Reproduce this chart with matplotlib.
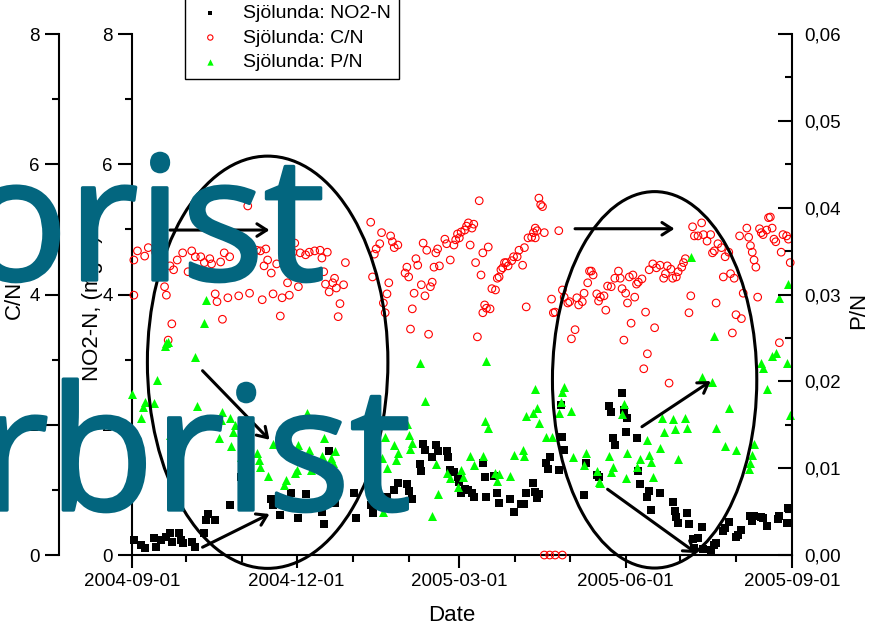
import numpy as np
import matplotlib
matplotlib.use('Agg')
import matplotlib.pyplot as plt
import matplotlib.dates as mdates
import matplotlib.patheffects as pe
from matplotlib.patches import Ellipse
from matplotlib.ticker import MultipleLocator, FuncFormatter

plt.rcParams['font.family'] = ['Liberation Sans', 'DejaVu Sans']

# sampling day (days after 2004-09-01), value
START = np.datetime64('2004-09-01')
END = np.datetime64('2005-09-01')

# Sjölunda NO2-N, mg/L
no2_pts = [
    (1, 0.23), (5, 0.15), (7, 0.11), (12, 0.26), (13, 0.12), (16, 0.23), (19, 0.28), (21, 0.34),
    (22, 0.20), (26, 0.34), (27, 0.23), (28, 0.18), (33, 0.20), (35, 0.12), (40, 0.34), (41, 0.54),
    (42, 0.63), (46, 0.54), (54, 0.77), (60, 1.20), (61, 0.86), (77, 0.86), (78, 0.77), (82, 0.61),
    (88, 0.95), (92, 0.57), (96, 0.94), (105, 0.66), (106, 0.48), (109, 1.60), (112, 0.80),
    (123, 0.95), (124, 0.57), (132, 0.77), (133, 0.65), (141, 0.89), (145, 1.00), (147, 1.11),
    (152, 1.09), (153, 0.98), (155, 0.86), (159, 1.40), (160, 1.29), (161, 1.70), (162, 1.61),
    (166, 1.51), (168, 1.69), (169, 1.60), (174, 1.60), (175, 1.51), (176, 1.31), (178, 1.27),
    (180, 1.20), (181, 1.12), (182, 0.95), (184, 1.01), (186, 1.00), (188, 0.95), (189, 0.89),
    (194, 1.41), (195, 1.20), (196, 0.89), (200, 1.21), (202, 0.95), (203, 0.80), (209, 0.86),
    (211, 0.66), (215, 0.78), (217, 0.78), (218, 0.95), (222, 1.11), (223, 0.97), (224, 0.88),
    (225, 0.94), (229, 1.41), (230, 1.32), (231, 1.51), (236, 1.31), (237, 2.30), (238, 1.81),
    (239, 1.61), (250, 0.92), (251, 1.41), (257, 1.23), (258, 1.20), (264, 2.29), (265, 2.20),
    (266, 1.80), (267, 1.69), (271, 2.49), (272, 2.23), (273, 1.89), (274, 2.10), (279, 1.80),
    (280, 1.29), (281, 1.09), (285, 0.89), (286, 0.98), (287, 0.69), (292, 0.95), (299, 0.81),
    (300, 0.68), (301, 0.58), (302, 0.49), (307, 0.65), (308, 0.48), (310, 0.25), (311, 0.11),
    (313, 0.26), (315, 0.43), (316, 0.09), (320, 0.08), (322, 0.15), (323, 0.18), (327, 0.37),
    (328, 0.41), (330, 0.51), (334, 0.28), (335, 0.31), (337, 0.38), (342, 0.60), (343, 0.52),
    (344, 0.60), (348, 0.58), (349, 0.57), (351, 0.45), (357, 0.55), (358, 0.60), (362, 0.49),
    (363, 0.72),
]

# Sjölunda C/N
cn_pts = [
    (1, 3.99), (1, 4.53), (3, 4.67), (7, 4.59), (9, 4.72), (13, 4.65), (16, 4.67), (18, 4.12),
    (19, 3.99), (22, 3.55), (20, 3.30), (21, 4.44), (23, 4.38), (25, 4.53), (28, 4.64), (31, 4.35),
    (33, 4.67), (35, 4.58), (38, 4.58), (40, 4.49), (43, 4.55), (44, 4.47), (46, 4.01), (47, 3.89),
    (49, 4.50), (50, 3.62), (51, 4.64), (53, 3.95), (54, 4.58), (59, 3.98), (62, 4.42), (64, 5.36),
    (65, 4.02), (66, 4.61), (69, 4.68), (71, 4.67), (72, 3.92), (73, 4.44), (74, 4.70), (75, 4.53),
    (77, 4.33), (78, 4.01), (80, 4.47), (82, 3.67), (83, 3.95), (86, 4.18), (87, 3.99), (89, 4.65),
    (90, 4.79), (92, 4.12), (93, 4.64), (96, 4.61), (98, 4.65), (101, 4.67), (104, 4.68), (105, 4.56),
    (106, 4.35), (108, 4.65), (107, 4.16), (109, 4.04), (111, 4.18), (112, 4.25), (113, 4.10),
    (115, 3.86), (114, 3.66), (117, 4.15), (118, 4.49), (132, 5.11), (138, 4.95), (137, 4.78),
    (135, 4.70), (134, 4.62), (133, 4.27), (142, 4.18), (141, 4.01), (139, 3.87), (140, 3.72),
    (143, 4.90), (144, 4.81), (147, 4.76), (145, 4.72), (152, 4.42), (151, 4.33), (153, 4.27),
    (154, 3.47), (155, 3.78), (156, 4.02), (157, 4.55), (158, 4.45), (160, 4.15), (161, 4.79),
    (163, 4.68), (164, 3.39), (162, 3.98), (165, 4.12), (166, 4.19), (168, 4.64), (169, 4.70),
    (167, 4.42), (170, 4.44), (173, 4.85), (174, 4.78), (176, 4.53), (178, 4.76), (179, 4.84),
    (180, 4.93), (181, 4.87), (182, 4.96), (184, 4.99), (185, 5.05), (186, 5.10), (188, 5.02),
    (189, 5.08), (187, 4.76), (190, 4.49), (192, 5.44), (193, 4.30), (194, 4.64), (195, 3.84),
    (196, 3.79), (194, 3.72), (191, 3.35), (197, 4.73), (198, 3.78), (199, 4.09), (201, 4.07),
    (202, 4.25), (203, 4.27), (204, 4.38), (205, 4.41), (206, 4.49), (207, 4.49), (208, 4.44),
    (210, 4.52), (211, 4.58), (213, 4.58), (214, 4.68), (216, 4.45), (217, 4.72), (218, 3.81),
    (219, 4.87), (221, 4.88), (222, 4.95), (223, 5.02), (224, 4.98), (223, 4.87), (225, 5.48),
    (226, 5.38), (227, 5.35), (228, 4.95), (228, 0.0), (231, 0.0), (234, 0.0), (238, 0.0),
    (236, 4.98), (232, 3.93), (233, 3.72), (234, 3.73), (238, 4.07), (239, 3.96), (241, 3.87),
    (243, 3.32), (245, 3.46), (242, 3.89), (246, 3.95), (247, 3.84), (249, 3.89), (250, 4.02),
    (252, 4.18), (253, 4.36), (254, 4.36), (255, 4.30), (257, 4.01), (258, 3.90), (259, 3.96),
    (261, 3.98), (262, 3.76), (263, 4.13), (265, 4.12), (267, 4.25), (269, 4.36), (270, 4.25),
    (271, 4.09), (273, 4.02), (274, 3.87), (275, 4.27), (276, 3.56), (277, 4.30), (278, 3.96),
    (279, 4.16), (280, 4.19), (282, 4.24), (272, 3.30), (283, 2.86), (285, 3.09), (284, 3.73),
    (286, 4.38), (288, 4.47), (289, 3.49), (290, 4.41), (292, 4.45), (294, 4.25), (295, 4.32),
    (296, 4.44), (297, 2.64), (298, 4.39), (299, 4.25), (301, 4.27), (302, 4.35), (304, 4.42),
    (305, 4.49), (306, 4.55), (308, 3.72), (309, 3.98), (310, 5.04), (311, 4.90), (313, 4.90),
    (315, 5.10), (316, 4.92), (318, 4.82), (320, 4.92), (321, 4.64), (322, 4.67), (323, 3.87),
    (324, 4.78), (326, 4.72), (327, 4.27), (328, 4.58), (330, 4.65), (331, 4.32), (332, 3.41),
    (333, 4.25), (334, 3.69), (337, 3.63), (338, 4.02), (336, 4.90), (340, 5.02), (341, 4.88),
    (342, 4.75), (343, 4.65), (344, 4.53), (345, 4.42), (346, 3.96), (347, 5.01), (348, 4.95),
    (349, 4.92), (351, 4.99), (352, 5.18), (353, 5.19), (354, 5.02), (355, 4.85), (356, 4.81),
    (358, 3.26), (359, 4.65), (360, 4.92), (362, 4.90), (363, 4.85), (364, 4.49),
]

# Sjölunda P/N
pn_pts = [
    (0, 0.0185), (5, 0.0158), (6, 0.0170), (7, 0.0176), (12, 0.0175), (14, 0.0202), (18, 0.0241),
    (19, 0.0244), (20, 0.0245), (21, 0.0138), (22, 0.0149), (35, 0.0228), (36, 0.0172),
    (40, 0.0267), (41, 0.0294), (49, 0.0156), (48, 0.0135), (50, 0.0165), (54, 0.0158),
    (55, 0.0126), (56, 0.0142), (57, 0.0150), (60, 0.0113), (61, 0.0135), (69, 0.0118),
    (70, 0.0109), (71, 0.0101), (75, 0.0091), (78, 0.0128), (82, 0.0129), (84, 0.0081),
    (85, 0.0086), (90, 0.0094), (91, 0.0098), (92, 0.0127), (97, 0.0164), (98, 0.0121),
    (99, 0.0098), (105, 0.0114), (106, 0.0135), (110, 0.0112), (111, 0.0106), (112, 0.0120),
    (138, 0.0112), (139, 0.0050), (140, 0.0136), (141, 0.0100), (145, 0.0127), (146, 0.0109),
    (147, 0.0118), (152, 0.0151), (153, 0.0138), (154, 0.0122), (155, 0.0129), (159, 0.0221),
    (162, 0.0177), (166, 0.0045), (168, 0.0105), (169, 0.0070), (174, 0.0094), (176, 0.0089),
    (180, 0.0078), (182, 0.0098), (183, 0.0090), (187, 0.0114), (189, 0.0104), (194, 0.0114),
    (195, 0.0154), (196, 0.0223), (197, 0.0146), (201, 0.0094), (202, 0.0085), (203, 0.0093),
    (209, 0.0091), (211, 0.0115), (216, 0.0121), (217, 0.0114), (218, 0.0160), (222, 0.0164),
    (223, 0.0191), (224, 0.0169), (225, 0.0152), (229, 0.0136), (232, 0.0136), (236, 0.0164),
    (237, 0.0176), (238, 0.0188), (239, 0.0194), (243, 0.0166), (244, 0.0113), (250, 0.0104),
    (251, 0.0118), (257, 0.0097), (258, 0.0084), (259, 0.0083), (264, 0.0114), (265, 0.0096),
    (266, 0.0101), (271, 0.0162), (272, 0.0174), (273, 0.0089), (274, 0.0118), (279, 0.0101),
    (281, 0.0111), (285, 0.0132), (286, 0.0115), (287, 0.0107), (288, 0.0090), (292, 0.0123),
    (293, 0.0158), (294, 0.0142), (299, 0.0157), (300, 0.0145), (302, 0.0111), (306, 0.0158),
    (307, 0.0146), (309, 0.0343), (315, 0.0205), (321, 0.0199), (322, 0.0252), (323, 0.0146),
    (328, 0.0126), (330, 0.0169), (334, 0.0121), (341, 0.0099), (342, 0.0106), (343, 0.0115),
    (344, 0.0128), (348, 0.0221), (349, 0.0215), (351, 0.0191), (354, 0.0229), (356, 0.0233),
    (358, 0.0296), (362, 0.0221), (363, 0.0312), (364, 0.0161),
]

# circled periods: (centre day, centre mg/L, width days, height mg/L)
rings = [(75, 2.96, 133, 6.33), (289, 2.69, 113, 5.78)]
# trend arrows: (from day, from value, to day, to value) on the mg/L scale
trend_arrows = [
    (21, 4.99, 76, 4.99), (39, 2.83, 76, 1.77), (39, 0.12, 76, 0.63),
    (245, 5.01, 300, 5.01), (282, 1.97, 320, 2.67), (263, 1.01, 312, 0.03),
]


def split(pts):
    days = np.array([p[0] for p in pts])
    vals = np.array([p[1] for p in pts])
    return START + days.astype('timedelta64[D]'), vals


no2_x, no2_y = split(no2_pts)
cn_x, cn_y = split(cn_pts)
pn_x, pn_y = split(pn_pts)

fig = plt.figure(figsize=(8.72, 6.31), dpi=100)
ax = fig.add_axes([0.1514, 0.1204, 0.7569, 0.8257])
ax_cn = ax.twinx()
ax_pn = ax.twinx()

h1 = ax.scatter(no2_x, no2_y, marker='s', s=26, color='black', linewidths=0,
                label='Sjölunda: NO2-N', clip_on=False)
h2 = ax_cn.scatter(cn_x, cn_y, marker='o', s=30, facecolors='none', edgecolors='#ff0000',
                   linewidths=0.8, label='Sjölunda: C/N', clip_on=False)
h3 = ax_pn.scatter(pn_x, pn_y, marker='^', s=42, color='#00ff00', linewidths=0,
                   label='Sjölunda: P/N', clip_on=False)

# x axis (dates)
ax.set_xlim(START, END)
ax.xaxis.set_major_locator(mdates.MonthLocator(bymonth=[3, 6, 9, 12]))
ax.xaxis.set_minor_locator(mdates.MonthLocator())
ax.xaxis.set_major_formatter(mdates.DateFormatter('%Y-%m-%d'))
ax.tick_params(axis='x', which='major', direction='out', length=9, width=1.5,
               labelsize=13.5, pad=4)
ax.tick_params(axis='x', which='minor', direction='out', length=5, width=1.5)
ax.set_xlabel('Date', fontsize=16)
ax.xaxis.set_label_coords(0.485, -0.095)

# inner left axis: NO2-N
ax.set_ylim(0, 8)
ax.yaxis.set_major_locator(MultipleLocator(2))
ax.yaxis.set_minor_locator(MultipleLocator(1))
ax.tick_params(axis='y', which='major', direction='out', length=10, width=1.5,
               labelsize=13.5, pad=4)
ax.tick_params(axis='y', which='minor', direction='out', length=5, width=1.5)
ax.set_ylabel('NO2-N, (mg/L)', fontsize=16)
ax.yaxis.set_label_coords(-0.044, 0.474)
for side in ['top', 'right']:
    ax.spines[side].set_visible(False)
for side in ['left', 'bottom']:
    ax.spines[side].set_linewidth(1.5)

# outer left axis: C/N
ax_cn.set_ylim(0, 8)
ax_cn.spines['left'].set_position(('axes', -0.1106))
for side in ['top', 'right', 'bottom']:
    ax_cn.spines[side].set_visible(False)
ax_cn.spines['left'].set_visible(True)
ax_cn.spines['left'].set_linewidth(1.5)
ax_cn.yaxis.set_ticks_position('left')
ax_cn.yaxis.set_label_position('left')
ax_cn.yaxis.set_major_locator(MultipleLocator(2))
ax_cn.yaxis.set_minor_locator(MultipleLocator(1))
ax_cn.tick_params(axis='y', which='major', direction='out', length=10, width=1.5,
                  labelsize=13.5, pad=4)
ax_cn.tick_params(axis='y', which='minor', direction='out', length=5, width=1.5)
ax_cn.set_ylabel('C/N', fontsize=16)
ax_cn.yaxis.set_label_coords(-0.162, 0.49)

# right axis: P/N
ax_pn.set_ylim(0, 0.06)
for side in ['top', 'left', 'bottom']:
    ax_pn.spines[side].set_visible(False)
ax_pn.spines['right'].set_linewidth(1.5)
ax_pn.yaxis.set_major_locator(MultipleLocator(0.01))
ax_pn.yaxis.set_minor_locator(MultipleLocator(0.005))
ax_pn.yaxis.set_major_formatter(FuncFormatter(lambda v, p: f'{v:.2f}'.replace('.', ',')))
ax_pn.tick_params(axis='y', which='major', direction='in', length=10, width=1.5,
                  labelsize=13.5, pad=9)
ax_pn.tick_params(axis='y', which='minor', direction='in', length=5, width=1.5)
ax_pn.set_ylabel('P/N', fontsize=16)
ax_pn.yaxis.set_label_coords(1.085, 0.47)

# rings and arrows, drawn in NO2-N units on top of all three layers
x0 = mdates.date2num(START)
for cd, cv, w, h in rings:
    ax_pn.add_patch(Ellipse((x0 + cd, cv), w, h, transform=ax.transData, fill=False,
                            edgecolor='black', linewidth=2.2, clip_on=False, zorder=5))
for d1, v1, d2, v2 in trend_arrows:
    ax_pn.annotate('', xy=(x0 + d2, v2), xytext=(x0 + d1, v1),
                   xycoords=ax.transData, textcoords=ax.transData,
                   arrowprops=dict(arrowstyle='->,head_length=0.7,head_width=0.45',
                                   color='black', lw=2.2, shrinkA=0, shrinkB=0),
                   annotation_clip=False, zorder=6)

fig.legend(handles=[h1, h2, h3], loc='lower left', bbox_to_anchor=(0.2122, 0.8748),
           fontsize=14, markerscale=0.7, frameon=True, fancybox=False, framealpha=1,
           edgecolor='black', borderpad=0.4, labelspacing=0.36, handlelength=1.8,
           handletextpad=0.8, borderaxespad=0).get_frame().set_linewidth(1.0)

# overlay lettering, regular face thickened with a same-colour outline
teal = '#03667f'
thick = [pe.withStroke(linewidth=2.4, foreground=teal)]
fig.text(-0.041, 1 - 280 / 631, 'orist', fontsize=124, family='Open Sans', color=teal,
         ha='left', va='baseline', zorder=20, path_effects=thick)
fig.text(-0.025, 1 - 510 / 631, 'rbrist', fontsize=124, family='Open Sans', color=teal,
         ha='left', va='baseline', zorder=20, path_effects=thick)

fig.savefig('out.png', dpi=100)
